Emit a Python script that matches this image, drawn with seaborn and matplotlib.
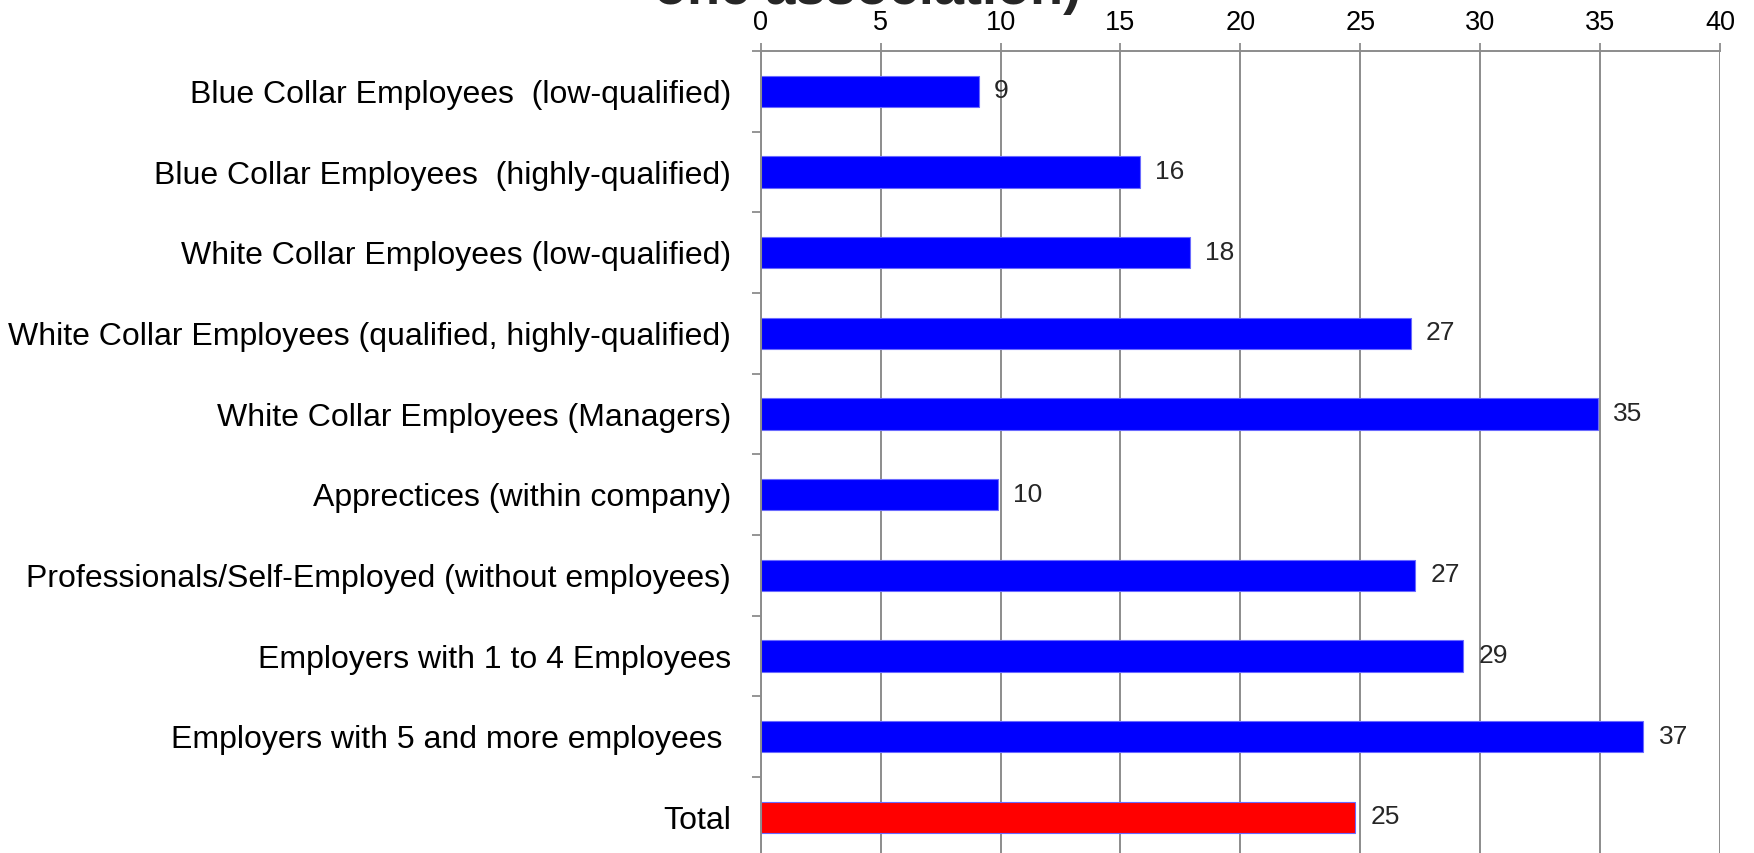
import matplotlib
matplotlib.use("Agg")
import matplotlib.pyplot as plt
import seaborn as sns
import pandas as pd
import numpy as np

categories = [
    "Blue Collar Employees  (low-qualified)",
    "Blue Collar Employees  (highly-qualified)",
    "White Collar Employees (low-qualified)",
    "White Collar Employees (qualified, highly-qualified)",
    "White Collar Employees (Managers)",
    "Apprectices (within company)",
    "Professionals/Self-Employed (without employees)",
    "Employers with 1 to 4 Employees",
    "Employers with 5 and more employees ",
    "Total",
]
values = [9.1, 15.8, 17.9, 27.1, 34.9, 9.9, 27.3, 29.3, 36.8, 24.8]
groups = ["group"] * 9 + ["total"]
group_colors = {"group": "#0000FF", "total": "#FF0000"}
x_ticks = [0, 5, 10, 15, 20, 25, 30, 35, 40]
title_text = "one association)"

df = pd.DataFrame({"category": categories, "value": values, "group": groups})

sns.set_theme(style="white")
plt.rcParams["font.family"] = ["Liberation Sans", "DejaVu Sans"]

W, H = 1754, 853
fig = plt.figure(figsize=(W / 100, H / 100 + 1e-4), dpi=100)
ax = fig.add_axes([760.7 / W, 1 - 857.7 / H, 959.3 / W, 806.7 / H])

sns.barplot(
    data=df, y="category", x="value", hue="group", palette=group_colors,
    orient="h", width=0.39, dodge=False, legend=False, ax=ax,
    edgecolor="#6a6aff", linewidth=0.8, saturation=1,
)
ax.set_ylim(9.5, -0.5)
ax.set_xlim(0, 40)
ax.set_xlabel("")
ax.set_ylabel("")

grid_c = "#8c8c8c"
ax.xaxis.tick_top()
ax.set_xticks(x_ticks)
ax.set_xticklabels([str(t) for t in x_ticks], fontsize=19.5)
ax.tick_params(axis="x", which="major", direction="out", length=6,
               width=1.3, color=grid_c, pad=5, labelcolor="black")
ax.grid(axis="x", color=grid_c, linewidth=1.4)
ax.grid(axis="y", visible=False)
ax.set_axisbelow(True)

ax.set_yticks(np.arange(len(categories)))
ax.set_yticklabels(categories, fontsize=23)
ax.set_yticks(np.arange(-0.5, len(categories), 1), minor=True)
ax.tick_params(axis="y", which="major", length=0, pad=21.5, labelcolor="black")
ax.tick_params(axis="y", which="minor", left=True, direction="out",
               length=6.5, width=1.3, color=grid_c)

for side in ["right", "bottom"]:
    ax.spines[side].set_visible(False)
for side in ["top", "left"]:
    ax.spines[side].set_visible(True)
    ax.spines[side].set_color(grid_c)
    ax.spines[side].set_linewidth(1.4)

for container in ax.containers:
    ax.bar_label(container, fmt="%.0f", padding=11, fontsize=19)

fig.text(776 / 1568, 1 - 4 / H, title_text, ha="center", va="baseline",
         fontsize=39, fontweight="bold")

fig.savefig("out.png", dpi=100)
